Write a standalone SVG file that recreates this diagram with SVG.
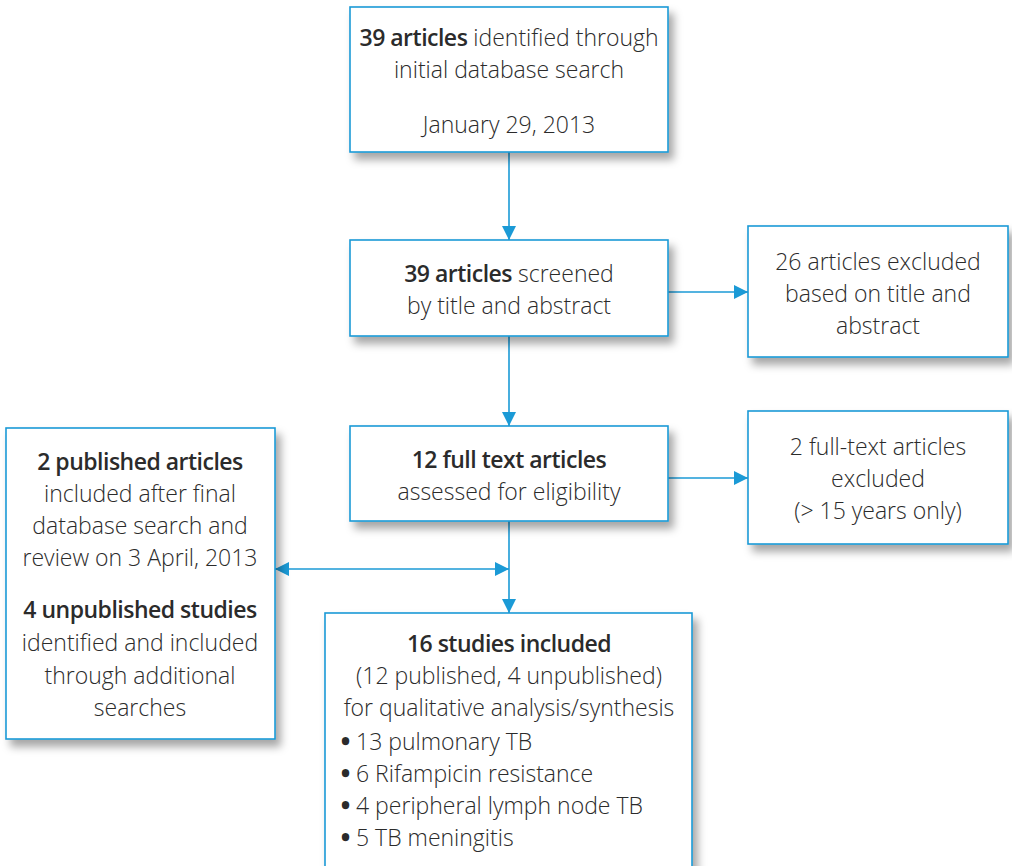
<svg xmlns="http://www.w3.org/2000/svg" width="1012" height="866" viewBox="0 0 1012 866">
<defs>
<filter id="sh" x="-10%" y="-10%" width="130%" height="130%">
<feDropShadow dx="5" dy="7" stdDeviation="4" flood-color="#000" flood-opacity="0.35"/>
</filter>
<marker id="ah" viewBox="0 0 10 10" refX="10" refY="5" markerWidth="14" markerHeight="14" markerUnits="userSpaceOnUse" orient="auto-start-reverse">
<path d="M0,0 L10,5 L0,10 Z" fill="#1b9ad6"/>
</marker>
</defs>
<style>
.box{fill:#fff;stroke:#1b9ad6;stroke-width:1.6;filter:url(#sh)}
.t{font-family:"Open Sans","Lato","Liberation Sans",sans-serif;font-weight:300;font-size:23px;fill:#2b2b2b;text-anchor:middle}
.l{text-anchor:start}
.b{font-weight:600;letter-spacing:-0.5px}
.d{font-weight:800}
.c{stroke:#1b9ad6;stroke-width:1.6;fill:none}
</style>
<rect width="1012" height="866" fill="#fff"/>
<g id="connectors">
<line class="c" x1="509" y1="152" x2="509" y2="240" marker-end="url(#ah)"/>
<line class="c" x1="509" y1="336" x2="509" y2="426" marker-end="url(#ah)"/>
<line class="c" x1="509" y1="521" x2="509" y2="613" marker-end="url(#ah)"/>
<line class="c" x1="668" y1="292" x2="748" y2="292" marker-end="url(#ah)"/>
<line class="c" x1="668" y1="478" x2="748" y2="478" marker-end="url(#ah)"/>
<line class="c" x1="275" y1="569" x2="509" y2="569" marker-start="url(#ah)" marker-end="url(#ah)"/>
</g>
<g id="n1">
<rect class="box" x="350" y="7" width="318" height="145"/>
<text class="t" x="509" y="46"><tspan class="b">39 articles</tspan> identified through</text>
<text class="t" x="509" y="78">initial database search</text>
<text class="t" x="509" y="133">January 29, 2013</text>
</g>
<g id="n2">
<rect class="box" x="350" y="240" width="318" height="96"/>
<text class="t" x="509" y="282"><tspan class="b">39 articles</tspan> screened</text>
<text class="t" x="509" y="314">by title and abstract</text>
</g>
<g id="n3">
<rect class="box" x="748" y="226" width="260" height="131"/>
<text class="t" x="878" y="270">26 articles excluded</text>
<text class="t" x="878" y="302">based on title and</text>
<text class="t" x="878" y="334">abstract</text>
</g>
<g id="n4">
<rect class="box" x="350" y="426" width="318" height="95"/>
<text class="t b" x="509" y="468">12 full text articles</text>
<text class="t" x="509" y="500">assessed for eligibility</text>
</g>
<g id="n5">
<rect class="box" x="748" y="411" width="260" height="133"/>
<text class="t" x="878" y="455">2 full-text articles</text>
<text class="t" x="878" y="487">excluded</text>
<text class="t" x="878" y="519">(&gt; 15 years only)</text>
</g>
<g id="n6">
<rect class="box" x="6" y="428" width="269" height="311"/>
<text class="t b" x="140" y="470">2 published articles</text>
<text class="t" x="140" y="502">included after final</text>
<text class="t" x="140" y="534">database search and</text>
<text class="t" x="140" y="566">review on 3 April, 2013</text>
<text class="t b" x="140" y="618">4 unpublished studies</text>
<text class="t" x="140" y="651">identified and included</text>
<text class="t" x="140" y="684">through additional</text>
<text class="t" x="140" y="716">searches</text>
</g>
<g id="n7">
<rect class="box" x="325" y="613" width="367" height="260"/>
<text class="t b" x="509" y="652">16 studies included</text>
<text class="t" x="509" y="684">(12 published, 4 unpublished)</text>
<text class="t" x="509" y="716">for qualitative analysis/synthesis</text>
<text class="t l" x="341" y="750"><tspan class="d">•</tspan> 13 pulmonary TB</text>
<text class="t l" x="341" y="782"><tspan class="d">•</tspan> 6 Rifampicin resistance</text>
<text class="t l" x="341" y="814"><tspan class="d">•</tspan> 4 peripheral lymph node TB</text>
<text class="t l" x="341" y="846"><tspan class="d">•</tspan> 5 TB meningitis</text>
</g>
</svg>
